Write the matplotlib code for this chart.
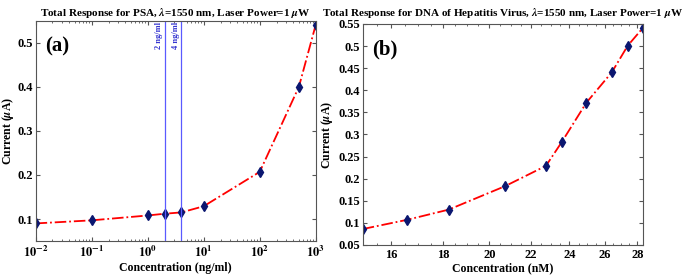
import matplotlib
matplotlib.use('Agg')
import matplotlib.pyplot as plt
import matplotlib.ticker as ticker
import numpy as np

plt.rcParams['font.family'] = 'Liberation Serif'
plt.rcParams['font.weight'] = 'bold'
plt.rcParams['mathtext.fontset'] = 'stix'
plt.rcParams['axes.labelweight'] = 'bold'

# (a) PSA
psa_conc = [0.01, 0.1, 1, 2, 4, 10, 100, 500, 1000]
psa_current = [0.090, 0.097, 0.108, 0.112, 0.115, 0.129, 0.207, 0.400, 0.541]
psa_marks = [2, 4]
psa_mark_labels = ['2 ng/ml', '4 ng/ml']

# (b) DNA of hepatitis virus
dna_conc = [15.0, 16.6, 18.24, 20.73, 22.75, 23.57, 24.94, 26.43, 27.4, 28.38]
dna_current = [0.086, 0.107, 0.130, 0.183, 0.229, 0.282, 0.372, 0.441, 0.501, 0.542]
dna_ticks = [16, 18, 20, 22, 24, 26, 28]

line_col = '#ff0000'
mk_col = '#0a1670'
spine_col = '#555555'
fs = 8.5

fig = plt.figure(figsize=(6.85, 2.79), dpi=100)
ax1 = fig.add_axes([0.052, 0.136, 0.409, 0.790])
ax2 = fig.add_axes([0.5295, 0.122, 0.4095, 0.792])

def style(ax):
    for s in ax.spines.values():
        s.set_color(spine_col)
        s.set_linewidth(0.8)
    ax.tick_params(which='both', direction='in', top=True, right=True,
                   color=spine_col, labelsize=9, pad=3)
    ax.tick_params(axis='y', pad=2)
    ax.tick_params(which='major', length=3)
    ax.tick_params(which='minor', length=1.5)
    for lab in ax.get_xticklabels() + ax.get_yticklabels():
        lab.set_fontweight('bold')

# panel a
ax1.plot(psa_conc, psa_current, linestyle='-.', color=line_col, lw=1.3,
         marker='d', markersize=5, markerfacecolor=mk_col, markeredgecolor=mk_col)
ax1.set_xscale('log')
ax1.set_xlim(1e-2, 1e3)
ax1.set_ylim(0.05, 0.55)
ax1.set_yticks([0.1, 0.2, 0.3, 0.4, 0.5])
ax1.xaxis.set_major_formatter(ticker.FuncFormatter(
    lambda v, p: r'$\mathbf{10^{%d}}$' % int(round(np.log10(v)))))
for xm, lab in zip(psa_marks, psa_mark_labels):
    ax1.axvline(xm, color='#5a5aff', lw=0.9)
    ax1.text(xm * 0.93, 0.548, lab, rotation=90, ha='right', va='top',
             color='#3535d0', fontsize=6, fontweight='bold')
ax1.text(0.035, 0.93, '(a)', transform=ax1.transAxes, fontsize=15,
         fontweight='bold', va='top')
ax1.set_title(r'Total Response for PSA, $\lambda$=1550 nm, Laser Power=1 $\mu$W',
              fontsize=8, fontweight='bold', pad=3)
ax1.set_xlabel('Concentration (ng/ml)', fontsize=fs, labelpad=1)
ax1.set_ylabel(r'Current ($\mu$A)', fontsize=fs, labelpad=1)
style(ax1)

# panel b
ax2.plot(dna_conc, dna_current, linestyle='-.', color=line_col, lw=1.3,
         marker='d', markersize=5, markerfacecolor=mk_col, markeredgecolor=mk_col)
ax2.set_xscale('log')
ax2.set_xlim(15.0, 28.38)
ax2.set_ylim(0.05, 0.55)
ax2.set_yticks(np.arange(0.05, 0.551, 0.05))
ax2.yaxis.set_major_formatter(ticker.FuncFormatter(lambda v, p: ('%g' % round(v, 2))))
ax2.set_xticks(dna_ticks)
ax2.xaxis.set_major_formatter(ticker.FuncFormatter(lambda v, p: '%d' % round(v)))
ax2.xaxis.set_minor_locator(ticker.FixedLocator(np.arange(15, 28.4, 0.5)))
ax2.xaxis.set_minor_formatter(ticker.NullFormatter())
ax2.text(0.035, 0.93, '(b)', transform=ax2.transAxes, fontsize=15,
         fontweight='bold', va='top')
ax2.set_title(r'Total Response for DNA of Hepatitis Virus, $\lambda$=1550 nm, Laser Power=1 $\mu$W',
              fontsize=8, fontweight='bold', pad=6)
ax2.set_xlabel('Concentration (nM)', fontsize=fs, labelpad=1)
ax2.set_ylabel(r'Current ($\mu$A)', fontsize=fs, labelpad=2)
style(ax2)

fig.savefig('out.png', dpi=100)
